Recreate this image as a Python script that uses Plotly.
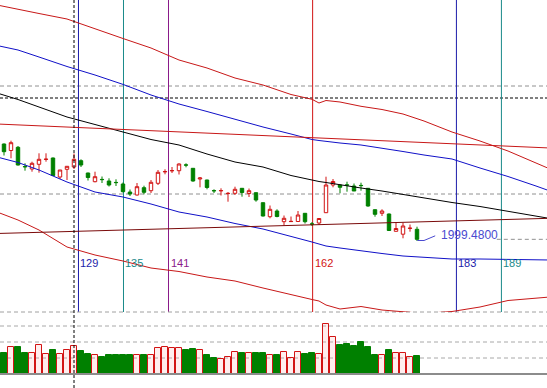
import plotly.graph_objects as go

# ---------------- data ----------------
bars = list(range(60))
opens = [2094.8, 2088.3, 2091.5, 2072.3, 2069.8, 2074.5, 2079.4, 2080.8, 2061.8, 2069.5,
         2071.8, 2078.1, 2065.8, 2057.1, 2059.4, 2057.8, 2056.4, 2054.8, 2046.8, 2043.8,
         2051.1, 2048.1, 2055.5, 2067.0, 2068.0, 2068.1, 2073.9, 2070.5, 2059.8, 2058.8,
         2048.2, 2048.0, 2045.2, 2045.5, 2050.5, 2045.3, 2046.1, 2036.1, 2022.1, 2027.8,
         2017.1, 2017.2, 2017.3, 2025.5, 2014.9, 2015.8, 2026.1, 2053.8, 2053.8, 2053.9,
         2052.8, 2053.4, 2050.5, 2029.1, 2025.5, 2024.8, 2007.5, 2004.6, 2010.4, 2009.5]
highs = [2095.3, 2098.1, 2092.8, 2075.5, 2077.1, 2085.5, 2085.5, 2081.3, 2068.8, 2072.8,
         2085.3, 2079.5, 2066.1, 2067.1, 2062.3, 2060.5, 2059.5, 2056.3, 2049.3, 2055.8,
         2053.1, 2058.8, 2068.8, 2069.5, 2071.8, 2075.5, 2075.5, 2070.8, 2061.8, 2059.1,
         2049.5, 2050.5, 2046.8, 2052.1, 2050.8, 2050.3, 2046.3, 2036.3, 2033.3, 2029.5,
         2023.3, 2022.3, 2027.8, 2025.8, 2016.8, 2020.5, 2062.1, 2059.8, 2054.3, 2057.1,
         2055.3, 2056.1, 2050.8, 2029.3, 2029.5, 2025.3, 2016.3, 2016.1, 2014.3, 2012.1]
lows = [2083.3, 2080.5, 2073.3, 2068.1, 2067.1, 2066.1, 2077.1, 2062.8, 2059.8, 2058.8,
        2069.8, 2071.8, 2058.3, 2056.5, 2055.8, 2052.3, 2052.8, 2046.3, 2042.8, 2043.3,
        2044.5, 2045.8, 2053.8, 2064.5, 2065.8, 2064.3, 2071.5, 2057.1, 2051.5, 2049.5,
        2045.8, 2043.3, 2037.1, 2043.8, 2042.1, 2041.8, 2037.1, 2022.3, 2020.5, 2021.5,
        2013.3, 2017.1, 2017.1, 2015.3, 2012.8, 2013.8, 2025.9, 2051.5, 2045.5, 2047.1,
        2047.8, 2048.1, 2032.1, 2022.1, 2022.8, 2007.8, 2007.3, 2000.5, 2007.1, 1997.8]
closes = [2087.1, 2096.1, 2073.8, 2072.0, 2075.5, 2079.5, 2079.6, 2063.3, 2068.8, 2072.5,
          2079.5, 2073.8, 2061.3, 2062.1, 2059.2, 2053.8, 2056.2, 2047.1, 2044.8, 2052.1,
          2046.5, 2056.5, 2066.5, 2067.2, 2068.2, 2074.8, 2073.7, 2057.8, 2060.8, 2051.3,
          2048.0, 2048.2, 2045.4, 2049.5, 2046.3, 2048.1, 2038.8, 2022.8, 2029.5, 2022.3,
          2020.5, 2017.4, 2023.8, 2017.1, 2014.7, 2020.3, 2053.8, 2057.3, 2051.5, 2053.7,
          2047.8, 2053.2, 2032.8, 2024.5, 2027.8, 2008.3, 2010.3, 2012.8, 2010.6, 1999.48]
volumes = [1331, 1688, 1688, 1331, 1313, 1813, 1250, 1500, 1250, 1481,
           1750, 1438, 1250, 1169, 1063, 1188, 1188, 1188, 1188, 1188,
           1188, 1188, 1606, 1688, 1606, 1606, 1500, 1563, 1481, 1188,
           1000, 956, 1044, 1356, 1313, 1294, 1313, 1313, 1188, 1188,
           1356, 981, 1356, 1250, 1313, 1250, 3106, 2294, 1813, 1875,
           1750, 2000, 1688, 1188, 1188, 1500, 1313, 1313, 1044, 1125]

# indicator lines (bar index knots, price)
band_x = [-1, 2, 5, 9, 13, 17, 21, 25, 29, 33, 37, 41, 44, 45, 46, 48, 51, 54, 57, 60, 64, 68, 72, 76, 78]
upper_red = [2233.8, 2229.3, 2225.3, 2219.8, 2209.8, 2200.3, 2190.8, 2178.8, 2170.8, 2160.8,
             2153.8, 2144.3, 2139.5, 2135.8, 2138.3, 2136.8, 2132.5, 2129.3, 2124.8, 2117.8,
             2106.8, 2097.8, 2087.8, 2075.8, 2069.8]
upper_blue = [2193.3, 2188.8, 2181.8, 2172.3, 2163.8, 2154.4, 2143.8, 2134.8, 2127.3, 2119.3,
              2111.8, 2104.8, 2099.3, 2098.3, 2097.3, 2095.8, 2093.8, 2090.8, 2087.3, 2083.8,
              2079.8, 2070.8, 2062.3, 2052.8, 2047.8]
middle_black = [2145.8, 2139.3, 2131.8, 2121.8, 2114.3, 2106.8, 2099.3, 2093.8, 2084.8, 2076.8,
                2071.8, 2063.3, 2058.3, 2057.3, 2056.3, 2053.8, 2050.8, 2047.8, 2044.3, 2040.8,
                2036.3, 2032.3, 2027.8, 2022.8, 2020.3]
lower_blue = [2081.8, 2076.3, 2068.8, 2056.8, 2046.8, 2041.8, 2034.8, 2026.8, 2021.8, 2015.3,
              2009.8, 2002.8, 1996.8, 1994.8, 1992.8, 1990.8, 1987.8, 1985.3, 1982.8, 1981.3,
              1979.8, 1979.8, 1979.3, 1978.8, 1978.8]
lower_red = [2026.8, 2018.8, 2008.8, 1991.8, 1983.8, 1977.8, 1970.8, 1967.3, 1961.8, 1957.8,
             1950.8, 1943.8, 1939.3, 1937.8, 1933.8, 1929.8, 1932.3, 1928.8, 1926.8, 1925.3,
             1927.3, 1931.8, 1938.3, 1940.8, 1941.8]
channel_x = [-1, 44, 78]
channel_top = [2114.8, 2101.3, 2090.8]
channel_bottom = [2005.3, 2013.8, 2020.5]

# horizontal levels
level_gray = [2152.8, 2044.8]
level_black = [2140.8]

# cycle (time) lines
cycle_pos = [10.64, 17.07, 23.5, 44.09, 64.63, 71.06]
cycle_labels = ['129', '135', '141', '162', '183', '189']
cursor_bar = 10

vol_grid = [1000, 2000, 3000]

# ---------------- styling ----------------
RED = '#d21414'
GREEN = '#008000'
BLUE = '#1010c8'
NAVY = '#1c1caa'
TEAL = '#1a8a8a'
PURPLE = '#8a1a8a'
MAROON = '#7a0a0a'
cycle_colors = [NAVY, TEAL, PURPLE, RED, NAVY, TEAL]

X_RANGE = [-0.5714, 77.5714]
Y_RANGE = [1926.8, 2238.8]
V_RANGE = [-875, 3875]
SPLIT = 76 / 388

fig = go.Figure()

# volume
vol_fill = ['rgba(255,160,160,0.18)' if c >= o else GREEN for o, c in zip(opens, closes)]
vol_line = [RED if c >= o else GREEN for o, c in zip(opens, closes)]
fig.add_trace(go.Bar(x=bars, y=volumes, width=0.72, yaxis='y2', xaxis='x',
                     marker=dict(color=vol_fill, line=dict(color=vol_line, width=1)),
                     hoverinfo='skip', showlegend=False))

# indicator lines
def add_line(xs, ys, color):
    fig.add_trace(go.Scatter(x=xs, y=ys, mode='lines', line=dict(color=color, width=1),
                             hoverinfo='skip', showlegend=False, cliponaxis=True))

add_line(band_x, upper_red, '#c81818')
add_line(band_x, upper_blue, BLUE)
add_line(band_x, middle_black, '#000000')
add_line(band_x, lower_blue, BLUE)
add_line(band_x, lower_red, '#c81818')
add_line(channel_x, channel_top, '#c81818')
add_line(channel_x, channel_bottom, MAROON)

# candles
fig.add_trace(go.Candlestick(x=bars, open=opens, high=highs, low=lows, close=closes,
                             increasing=dict(line=dict(color=RED, width=1), fillcolor='white'),
                             decreasing=dict(line=dict(color=GREEN, width=1), fillcolor=GREEN),
                             whiskerwidth=0, hoverinfo='skip', showlegend=False))

# price marker connector + label
last = len(bars) - 1
fig.add_trace(go.Scatter(x=[last + 0.05, last + 1.0, last + 2.6],
                         y=[lows[last] + 0.5, lows[last] + 0.5, closes[last] + 3.5],
                         mode='lines', line=dict(color='#4a4ad0', width=1),
                         hoverinfo='skip', showlegend=False))

shapes = []
for lv in level_gray:
    shapes.append(dict(type='line', xref='paper', x0=0, x1=1, yref='y', y0=lv, y1=lv,
                       line=dict(color='#909090', width=1, dash='4px,3px'), layer='below'))
for lv in level_black:
    shapes.append(dict(type='line', xref='paper', x0=0, x1=1, yref='y', y0=lv, y1=lv,
                       line=dict(color='#000000', width=1, dash='3px,2px'), layer='below'))
# current price line on the right
shapes.append(dict(type='line', xref='x', x0=70.4, x1=X_RANGE[1], yref='y',
                   y0=closes[last], y1=closes[last],
                   line=dict(color='#909090', width=1, dash='4px,3px'), layer='below'))
# cycle lines
for p, col in zip(cycle_pos, cycle_colors):
    shapes.append(dict(type='line', xref='x', x0=p, x1=p, yref='paper', y0=SPLIT, y1=1,
                       line=dict(color=col, width=1), layer='below'))
# volume grid
for g in vol_grid:
    shapes.append(dict(type='line', xref='paper', x0=0, x1=1, yref='y2', y0=g, y1=g,
                       line=dict(color='#a8a8a8', width=1, dash='4px,3px'), layer='below'))
# separator
shapes.append(dict(type='line', xref='paper', x0=0, x1=1, yref='paper', y0=SPLIT, y1=SPLIT,
                   line=dict(color='#a0a0a0', width=1, dash='4px,3px'), layer='below'))
# volume baseline
shapes.append(dict(type='line', xref='paper', x0=0, x1=1, yref='y2', y0=0, y1=0,
                   line=dict(color='#8c8c8c', width=2), layer='above'))
# cursor (crosshair) vertical
shapes.append(dict(type='line', xref='x', x0=cursor_bar, x1=cursor_bar, yref='paper', y0=0, y1=1,
                   line=dict(color='#000000', width=1, dash='3px,2px'), layer='above'))

annotations = []
for p, lab, col in zip(cycle_pos, cycle_labels, cycle_colors):
    annotations.append(dict(x=p, y=1976.3, xref='x', yref='y', text=lab, showarrow=False,
                            xanchor='left', yanchor='middle', xshift=0,
                            font=dict(family='Liberation Sans, Arial', size=11, color=col)))
annotations.append(dict(x=last + 3.1, y=2003.8, xref='x', yref='y', text=f'{closes[last]:.4f}',
                        showarrow=False, xanchor='left', yanchor='middle',
                        font=dict(family='Liberation Sans, Arial', size=12, color='#4a4ad0')))

fig.update_layout(
    width=547, height=388, margin=dict(l=0, r=0, t=0, b=0),
    plot_bgcolor='white', paper_bgcolor='white', showlegend=False,
    xaxis=dict(range=X_RANGE, visible=False, fixedrange=True, rangeslider=dict(visible=False)),
    yaxis=dict(domain=[SPLIT, 1], range=Y_RANGE, visible=False, fixedrange=True),
    yaxis2=dict(domain=[0, SPLIT], range=V_RANGE, visible=False, fixedrange=True, anchor='x'),
    shapes=shapes, annotations=annotations, bargap=0,
)

fig.write_html('out.html', config={'displayModeBar': False})
